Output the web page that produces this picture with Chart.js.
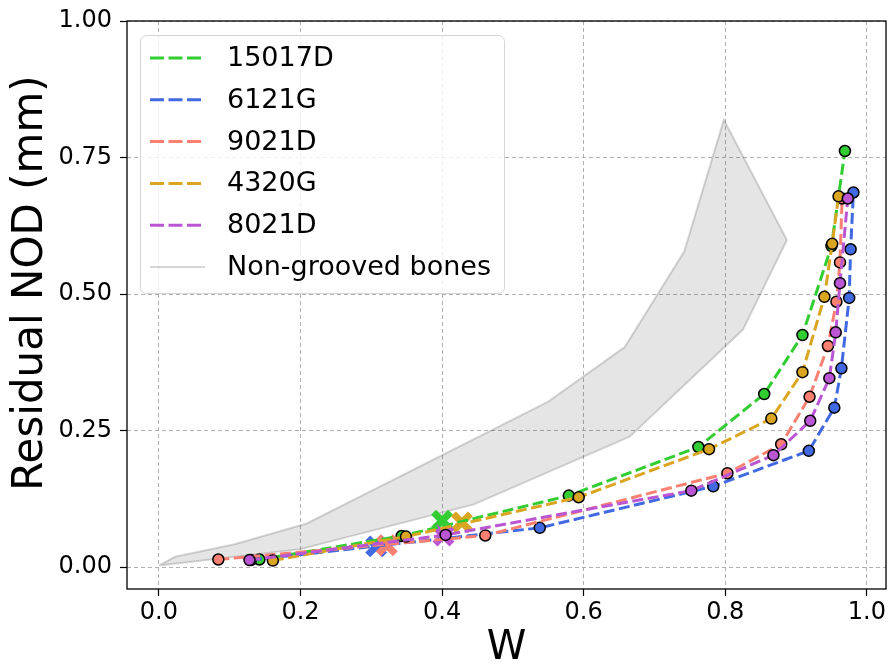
<!DOCTYPE html>
<html>
<head>
<meta charset="utf-8">
<script src="https://cdn.jsdelivr.net/npm/chart.js@4.4.1/dist/chart.umd.min.js"></script>
<style>
    html, body { margin: 0; padding: 0; background: #fff; }
    #wrap { width: 888px; height: 666px; }
</style>
</head>
<body>
<div id="wrap"><canvas id="nod_chart"></canvas></div>
<script>
// series, in legend order
const seriesNames = ['15017D', '6121G', '9021D', '4320G', '8021D'];
const seriesColors = ['#32cd32', '#4169e1', '#fa8072', '#daa520', '#ba55d3'];

const w15017D = [0.142, 0.343, 0.579, 0.762, 0.855, 0.909, 0.950, 0.969];
const nod15017D = [0.014, 0.057, 0.131, 0.220, 0.317, 0.425, 0.588, 0.762];

const w6121G = [0.130, 0.538, 0.783, 0.918, 0.954, 0.964, 0.975, 0.977, 0.981];
const nod6121G = [0.013, 0.072, 0.148, 0.213, 0.292, 0.364, 0.493, 0.582, 0.686];

const w9021D = [0.084, 0.461, 0.803, 0.879, 0.919, 0.945, 0.957, 0.962, 0.965];
const nod9021D = [0.014, 0.058, 0.172, 0.225, 0.312, 0.405, 0.486, 0.558, 0.675];

const w4320G = [0.161, 0.349, 0.593, 0.777, 0.865, 0.909, 0.940, 0.951, 0.960];
const nod4320G = [0.012, 0.056, 0.128, 0.216, 0.272, 0.357, 0.495, 0.592, 0.679];

const w8021D = [0.128, 0.405, 0.752, 0.868, 0.920, 0.947, 0.956, 0.962, 0.973];
const nod8021D = [0.013, 0.059, 0.140, 0.205, 0.268, 0.346, 0.430, 0.520, 0.675];

// X markers, one per series (same order as seriesNames)
const markW = [0.400, 0.307, 0.322, 0.428, 0.402];
const markNod = [0.085, 0.038, 0.040, 0.082, 0.058];

// Non-grooved bones band, outline going up the top edge and back along the bottom
const bandW = [0.000, 0.023, 0.107, 0.209, 0.550, 0.658, 0.742, 0.798, 0.887, 0.825, 0.665, 0.445, 0.200, 0.000];
const bandNod = [0.003, 0.019, 0.042, 0.080, 0.303, 0.403, 0.578, 0.819, 0.599, 0.435, 0.239, 0.115, 0.033, 0.003];

const xTicks = [0.0, 0.2, 0.4, 0.6, 0.8, 1.0];
const yTicks = [0.00, 0.25, 0.50, 0.75, 1.00];

const FONT = 'DejaVu Sans';
const DASH = [11, 4.5];
Chart.defaults.font.family = FONT;
Chart.defaults.color = '#000';

function toPoints(xs, ys) {
    return xs.map((x, i) => ({x: x, y: ys[i]}));
}

const seriesW = [w15017D, w6121G, w9021D, w4320G, w8021D];
const seriesNod = [nod15017D, nod6121G, nod9021D, nod4320G, nod8021D];

const datasets = [];
for (let i = 0; i < seriesNames.length; i++) {
    datasets.push({
        label: seriesNames[i],
        data: toPoints(seriesW[i], seriesNod[i]),
        showLine: true,
        borderColor: seriesColors[i],
        backgroundColor: seriesColors[i],
        borderWidth: 3,
        borderDash: DASH,
        pointRadius: 5.5,
        pointBackgroundColor: seriesColors[i],
        pointBorderColor: '#000',
        pointBorderWidth: 1.5,
        order: 5 - i
    });
}
datasets.push({
    label: 'markers',
    data: toPoints(markW, markNod),
    pointStyle: 'crossRot',
    pointRadius: 12,
    pointBorderWidth: 7,
    pointBorderColor: seriesColors,
    pointBackgroundColor: seriesColors,
    order: 6
});
datasets.push({
    label: 'Non-grooved bones',
    data: toPoints(bandW, bandNod),
    showLine: true,
    fill: 'shape',
    backgroundColor: 'rgba(0,0,0,0.1)',
    borderColor: 'rgba(0,0,0,0.16)',
    borderWidth: 2,
    pointRadius: 0,
    order: 7
});

// all four spines + y axis title
const frame = {
    id: 'frame',
    afterDatasetsDraw(chart) {
        const a = chart.chartArea;
        const ctx = chart.ctx;
        ctx.save();
        ctx.strokeStyle = '#000';
        ctx.lineWidth = 1.3;
        ctx.strokeRect(a.left, a.top, a.right - a.left, a.bottom - a.top);
        ctx.translate(31, 283);
        ctx.rotate(-Math.PI / 2);
        ctx.font = '42px "' + FONT + '"';
        ctx.textAlign = 'center';
        ctx.textBaseline = 'middle';
        ctx.fillStyle = '#000';
        ctx.fillText('Residual NOD (mm)', 0, 0);
        ctx.restore();
    }
};

// matplotlib-like legend in the upper left
const boxLegend = {
    id: 'boxLegend',
    afterDraw(chart) {
        const ctx = chart.ctx;
        ctx.save();
        const x0 = 140.5, y0 = 35.5, w = 364, h = 258, r = 6;
        ctx.beginPath();
        ctx.moveTo(x0 + r, y0);
        ctx.arcTo(x0 + w, y0, x0 + w, y0 + h, r);
        ctx.arcTo(x0 + w, y0 + h, x0, y0 + h, r);
        ctx.arcTo(x0, y0 + h, x0, y0, r);
        ctx.arcTo(x0, y0, x0 + w, y0, r);
        ctx.closePath();
        ctx.fillStyle = 'rgba(255,255,255,0.8)';
        ctx.fill();
        ctx.strokeStyle = '#d6d6d6';
        ctx.lineWidth = 1;
        ctx.stroke();

        ctx.font = '27px "' + FONT + '"';
        ctx.textBaseline = 'middle';
        ctx.fillStyle = '#000';
        const ds = chart.data.datasets.filter(d => d.label !== 'markers');
        for (let i = 0; i < ds.length; i++) {
            const y = 58 + i * 41.8;
            ctx.beginPath();
            ctx.strokeStyle = ds[i].borderColor;
            ctx.lineWidth = ds[i].borderDash ? 3 : 2.2;
            ctx.setLineDash(ds[i].borderDash ? [14, 4.5] : []);
            ctx.moveTo(150, y);
            ctx.lineTo(ds[i].borderDash ? 201 : 205, y);
            ctx.stroke();
            ctx.setLineDash([]);
            ctx.fillText(ds[i].label, 227, y + 1);
        }
        ctx.restore();
    }
};

const gridOpts = {
    color: '#b0b0b0',
    lineWidth: 1,
    tickLength: 7,
    tickColor: '#000',
    tickWidth: 1.2,
    tickBorderDash: []
};

const ctx = document.getElementById('nod_chart');
new Chart(ctx, {
    type: 'scatter',
    data: { datasets: datasets },
    plugins: [frame, boxLegend],
    options: {
        responsive: true,
        maintainAspectRatio: false,
        animation: false,
        events: [],
        layout: { autoPadding: false, padding: { top: 21, right: 2, left: 0, bottom: 0 } },
        plugins: {
            legend: { display: false },
            tooltip: { enabled: false }
        },
        scales: {
            x: {
                type: 'linear',
                min: -0.045,
                max: 1.027,
                afterFit(s) {
                    s.height = 77;
                    s.paddingLeft = 0;
                    s.paddingRight = 0;
                },
                afterBuildTicks(s) { s.ticks = xTicks.map(v => ({value: v})); },
                ticks: {
                    stepSize: 0.2,
                    autoSkip: false,
                    maxRotation: 0,
                    padding: 2,
                    font: { size: 24 },
                    callback: v => Number(v).toFixed(1)
                },
                grid: gridOpts,
                border: { display: false, dash: [4, 3] },
                title: { display: true, text: 'W', font: { size: 40 }, padding: { top: 0, bottom: -7 } }
            },
            y: {
                type: 'linear',
                min: -0.04,
                max: 1.0,
                afterFit(s) {
                    s.width = 127;
                    s.paddingTop = 0;
                    s.paddingBottom = 0;
                },
                afterBuildTicks(s) { s.ticks = yTicks.map(v => ({value: v})); },
                ticks: {
                    stepSize: 0.25,
                    autoSkip: false,
                    padding: 8,
                    font: { size: 24 },
                    callback: v => Number(v).toFixed(2)
                },
                grid: gridOpts,
                border: { display: false, dash: [4, 3] },
                title: { display: false }
            }
        }
    }
});
</script>
</body>
</html>
